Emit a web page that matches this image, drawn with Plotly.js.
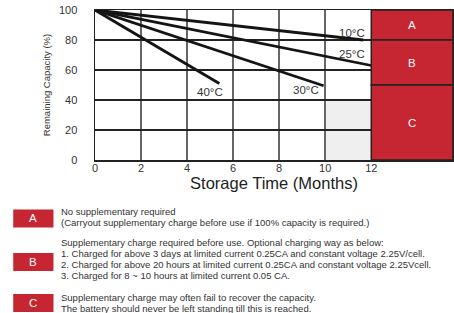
<!DOCTYPE html>
<html>
<head>
<meta charset="utf-8">
<script src="https://cdn.plot.ly/plotly-3.0.1.min.js"></script>
<style>html,body{margin:0;padding:0;background:#fff;}#chart{width:454px;height:313px;}</style>
</head>
<body>
<div id="chart"></div>
<script>
// ---- data ----
const seriesNames = ['10°C', '25°C', '30°C', '40°C'];
const months10 = [0, 11.65], cap10 = [100, 80];
const months25 = [0, 12],    cap25 = [100, 63];
const months30 = [0, 9.93],  cap30 = [100, 49.5];
const months40 = [0, 5.4],   cap40 = [100, 51];
const labelX = [11.15, 11.15, 9.15, 5.0];
const labelY = [84.5, 70.5, 46.7, 45.5];

const zoneNames = ['A', 'B', 'C'];
const zoneLow  = [80, 50, 0];
const zoneHigh = [100, 80, 50];
const zoneStart = 12, xMax = 15.55;
const shadeX = [10, 12], shadeY = [0, 40];

const xTicks = [0, 2, 4, 6, 8, 10, 12];
const yTicks = [0, 20, 40, 60, 80, 100];

const legendLines = [
  ['No supplementary required',
   '(Carryout supplementary charge before use if 100% capacity is required.)'],
  ['Supplementary charge required before use. Optional charging way as below:',
   '1. Charged for above 3 days at limited current 0.25CA and constant voltage 2.25V/cell.',
   '2. Charged for above 20 hours at limited current 0.25CA and constant voltage 2.25Vcell.',
   '3. Charged for 8 ~ 10 hours at limited current 0.05 CA.'],
  ['Supplementary charge may often fail to recover the capacity.',
   'The battery should never be left standing till this is reached.']
];

// ---- layout helpers (pixel -> paper) ----
const L = 95, R = 452.7, T = 10.3, B = 160, W = 454, H = 313;
const px = x => (x - L) / (R - L);
const py = y => (B - y) / (B - T);

const RED = '#c62532';
const FONT = 'Liberation Sans, Arial, sans-serif';

const seriesX = [months10, months25, months30, months40];
const seriesY = [cap10, cap25, cap30, cap40];
const traces = seriesNames.map((n, i) => ({
  x: seriesX[i], y: seriesY[i], name: n, type: 'scatter', mode: 'lines',
  line: {color: '#141414', width: 2.8}, hoverinfo: 'skip'
}));

const shapes = [];
const annotations = [];

// gray shaded region
shapes.push({type: 'rect', xref: 'x', yref: 'y', x0: shadeX[0], x1: shadeX[1], y0: shadeY[0], y1: shadeY[1],
  fillcolor: '#efefef', line: {width: 0}, layer: 'below'});

// zones
zoneNames.forEach((z, i) => {
  shapes.push({type: 'rect', xref: 'x', yref: 'y', x0: zoneStart, x1: xMax, y0: zoneLow[i], y1: zoneHigh[i],
    fillcolor: RED, line: {color: '#222', width: 1.5}, layer: 'above'});
  annotations.push({xref: 'x', yref: 'y', x: (zoneStart + xMax) / 2, y: (zoneLow[i] + zoneHigh[i]) / 2,
    xanchor: 'center', yanchor: 'middle',
    text: z, showarrow: false, font: {family: FONT, size: 11.5, color: '#fff'}});
});

// series labels
seriesNames.forEach((n, i) => {
  annotations.push({xref: 'x', yref: 'y', x: labelX[i], y: labelY[i], text: n, showarrow: false,
    xanchor: 'center', yanchor: 'middle',
    font: {family: FONT, size: 11.5, color: '#333'}});
});

// legend boxes + text
const boxTop = [209.3, 252.7, 293.7];
const boxH = 18;
const lineY = [[211, 222.7], [242.7, 253.7, 264.3, 275.3], [297, 308.3]];
zoneNames.forEach((z, i) => {
  shapes.push({type: 'rect', xref: 'paper', yref: 'paper', x0: px(13.3), x1: px(53.5),
    y0: py(boxTop[i] + boxH), y1: py(boxTop[i]), fillcolor: RED, line: {width: 0}, layer: 'below'});
  annotations.push({xref: 'paper', yref: 'paper', x: px(33.4), y: py(boxTop[i] + boxH / 2),
    xanchor: 'center', yanchor: 'middle',
    text: z, showarrow: false, font: {family: FONT, size: 11.5, color: '#fff'}});
  legendLines[i].forEach((t, j) => {
    annotations.push({xref: 'paper', yref: 'paper', x: px(59.5), y: py(lineY[i][j]), xanchor: 'left', yanchor: 'middle',
      text: t, showarrow: false, font: {family: FONT, size: 9.5, color: '#333'}});
  });
});

const layout = {
  width: W, height: H,
  margin: {l: L, r: W - R, t: T, b: H - B, pad: 0},
  paper_bgcolor: '#fff', plot_bgcolor: 'rgba(0,0,0,0)',
  showlegend: false,
  font: {family: FONT, color: '#222'},
  xaxis: {
    range: [0, xMax], tickvals: xTicks, ticktext: xTicks.map(String), ticks: '',
    showgrid: true, gridcolor: '#666', gridwidth: 1.5,
    showline: true, linecolor: '#222', linewidth: 1.5, mirror: true, zeroline: false,
    tickfont: {family: FONT, size: 11, color: '#333'}, ticklabelstandoff: -3,
    title: {text: 'Storage Time (Months)', font: {family: FONT, size: 16.5, color: '#222'}, standoff: 1}
  },
  yaxis: {
    range: [0, 100], tickvals: yTicks, ticks: '',
    showgrid: true, gridcolor: '#222', gridwidth: 1.3,
    showline: true, linecolor: '#222', linewidth: 1.5, mirror: true, zeroline: false,
    tickfont: {family: FONT, size: 11, color: '#333'}, ticklabelstandoff: 14,
    title: {text: 'Remaining Capacity (%)', font: {family: FONT, size: 9.5, color: '#333'}, standoff: 6}
  },
  shapes: shapes,
  annotations: annotations
};

Plotly.newPlot('chart', traces, layout, {displayModeBar: false, staticPlot: true});
</script>
</body>
</html>
